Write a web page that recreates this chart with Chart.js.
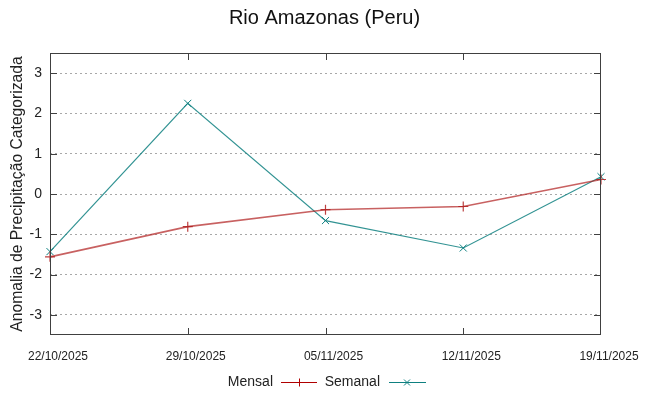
<!DOCTYPE html>
<html>
<head>
<meta charset="utf-8">
<script src="https://cdn.jsdelivr.net/npm/chart.js@4/dist/chart.umd.min.js"></script>
<style>
  html, body { margin: 0; padding: 0; background: #fff; }
  #wrap { width: 649px; height: 396px; }
</style>
</head>
<body>
<div id="wrap"><canvas id="chuvaChart" width="649" height="396"></canvas></div>
<script>
// dados
var datas = ['22/10/2025', '29/10/2025', '05/11/2025', '12/11/2025', '19/11/2025'];
var mensal = [-1.56, -0.81, -0.39, -0.31, 0.36];
var semanal = [-1.43, 2.25, -0.66, -1.34, 0.43];
var yTicks = [-3, -2, -1, 0, 1, 2, 3];

var corMensal = '#b00000';
var corSemanal = '#0e8080';

// moldura e marcas internas no estilo gnuplot, mais a legenda embaixo
var molduraPlugin = {
    id: 'moldura',
    afterDraw: function (chart) {
        var ctx = chart.ctx;
        var a = chart.chartArea;
        var x = chart.scales.x, y = chart.scales.y;
        ctx.save();
        ctx.strokeStyle = '#404040';
        ctx.lineWidth = 1;
        ctx.beginPath();
        datas.forEach(function (d, i) {
            var px = Math.round(x.getPixelForValue(i)) + 0.5;
            if (i === 0 || i === datas.length - 1) return;
            ctx.moveTo(px, a.top); ctx.lineTo(px, a.top + 7);
            ctx.moveTo(px, a.bottom); ctx.lineTo(px, a.bottom - 7);
        });
        yTicks.forEach(function (v) {
            var py = Math.round(y.getPixelForValue(v)) + 0.5;
            ctx.moveTo(a.left, py); ctx.lineTo(a.left + 7, py);
            ctx.moveTo(a.right, py); ctx.lineTo(a.right - 7, py);
        });
        ctx.stroke();
        ctx.strokeRect(Math.round(a.left) + 0.5, Math.round(a.top) + 0.5,
            Math.round(a.right - a.left) - 1, Math.round(a.bottom - a.top) - 1);

        // legenda
        var ly = 382.5;
        ctx.font = '14px "Liberation Sans", Arial, sans-serif';
        ctx.fillStyle = '#222';
        ctx.textBaseline = 'middle';
        ctx.textAlign = 'right';
        ctx.fillText('Mensal', 273, ly);
        ctx.fillText('Semanal', 380, ly);

        ctx.lineWidth = 1;
        ctx.strokeStyle = corMensal;
        ctx.beginPath();
        ctx.moveTo(281, ly); ctx.lineTo(317, ly);
        ctx.moveTo(299.5, ly - 4); ctx.lineTo(299.5, ly + 4);
        ctx.stroke();

        ctx.strokeStyle = corSemanal;
        ctx.beginPath();
        ctx.moveTo(389, ly); ctx.lineTo(426, ly);
        ctx.moveTo(404, ly - 3); ctx.lineTo(410, ly + 3);
        ctx.moveTo(404, ly + 3); ctx.lineTo(410, ly - 3);
        ctx.stroke();
        ctx.restore();
    }
};

var ctxChuva = document.getElementById('chuvaChart').getContext('2d');
var chuvaChart = new Chart(ctxChuva, {
    type: 'line',
    data: {
        labels: datas,
        datasets: [
            {
                label: 'Mensal',
                data: mensal,
                borderColor: 'rgba(176, 30, 30, 0.7)',
                borderWidth: 1.6,
                pointStyle: 'cross',
                pointRadius: 5,
                pointBorderColor: 'rgba(176, 30, 30, 0.85)',
                pointBorderWidth: 1.2,
                tension: 0
            },
            {
                label: 'Semanal',
                data: semanal,
                borderColor: 'rgba(14, 128, 128, 0.85)',
                borderWidth: 1.2,
                pointStyle: 'crossRot',
                pointRadius: 5,
                pointBorderColor: corSemanal,
                pointBorderWidth: 1,
                tension: 0
            }
        ]
    },
    options: {
        responsive: false,
        animation: false,
        layout: {
            padding: 0
        },
        plugins: {
            legend: { display: false },
            tooltip: { enabled: false },
            title: {
                display: true,
                text: 'Rio Amazonas (Peru)',
                color: '#111',
                font: { family: '"Liberation Sans", Arial, sans-serif', size: 20, weight: 'normal' },
                padding: { top: 6, bottom: 23 }
            }
        },
        scales: {
            x: {
                type: 'category',
                offset: false,
                grid: { display: false },
                border: { display: false },
                ticks: {
                    autoSkip: false,
                    maxRotation: 0,
                    padding: 6,
                    labelOffset: 8,
                    color: '#222',
                    font: { family: '"Liberation Sans", Arial, sans-serif', size: 12 }
                },
                afterFit: function (scale) { scale.height = 61; }
            },
            y: {
                min: -3.5,
                max: 3.5,
                grid: {
                    color: '#a8a8a8',
                    lineWidth: 1,
                    drawTicks: false
                },
                border: { display: false, dash: [2, 3] },
                ticks: {
                    padding: 8,
                    color: '#222',
                    font: { family: '"Liberation Sans", Arial, sans-serif', size: 14 }
                },
                afterBuildTicks: function (scale) {
                    scale.ticks = yTicks.map(function (v) { return { value: v }; });
                },
                afterFit: function (scale) { scale.width = 50; },
                title: {
                    display: true,
                    text: 'Anomalia de Precipitação Categorizada',
                    color: '#222',
                    font: { family: '"Liberation Sans", Arial, sans-serif', size: 15.7 },
                    padding: { top: 8, bottom: 0 }
                }
            },
            // eixo vazio à direita só para reservar a margem
            margem: {
                position: 'right',
                axis: 'y',
                min: -3.5,
                max: 3.5,
                grid: { display: false },
                border: { display: false },
                ticks: { display: false },
                afterFit: function (scale) { scale.width = 48; }
            }
        }
    },
    plugins: [molduraPlugin]
});
</script>
</body>
</html>
